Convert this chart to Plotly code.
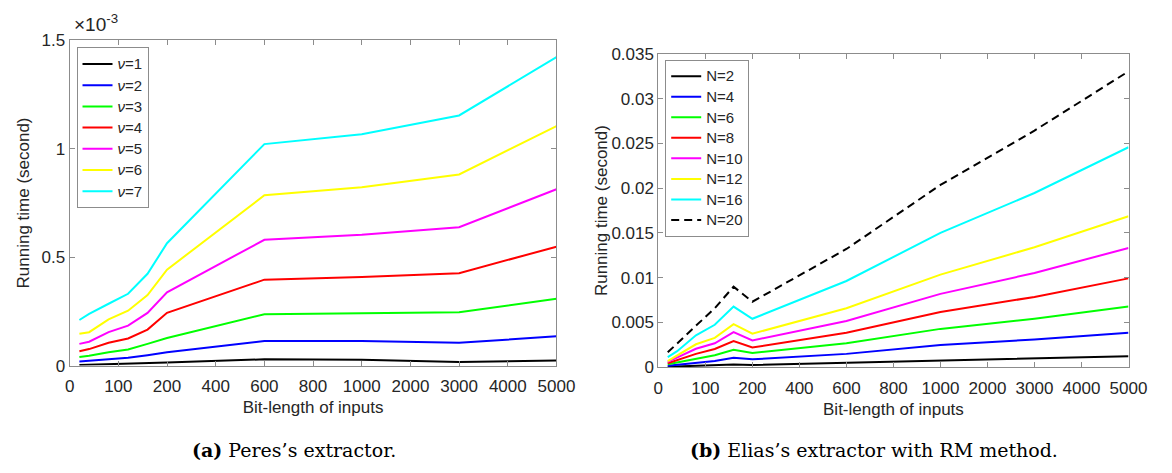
import numpy as np
import plotly.graph_objects as go

# Bit-length tick labels (equally spaced on the axis)
tick_vals = [0, 100, 200, 400, 600, 800, 1000, 2000, 3000, 4000, 5000]
bit_lengths = [20, 40, 80, 120, 160, 200, 600, 1000, 3000, 5000]

# (a) Peres's extractor, running time in units of 1e-3 s
peres_v1 = [0.003, 0.004, 0.007, 0.009, 0.011, 0.014, 0.029, 0.027, 0.017, 0.023]
peres_v2 = [0.019, 0.022, 0.030, 0.036, 0.048, 0.061, 0.113, 0.113, 0.105, 0.135]
peres_v3 = [0.039, 0.045, 0.061, 0.074, 0.100, 0.127, 0.237, 0.243, 0.246, 0.308]
peres_v4 = [0.066, 0.076, 0.105, 0.125, 0.166, 0.243, 0.396, 0.408, 0.426, 0.548]
peres_v5 = [0.100, 0.110, 0.154, 0.184, 0.243, 0.338, 0.580, 0.603, 0.638, 0.813]
peres_v6 = [0.147, 0.154, 0.213, 0.253, 0.325, 0.442, 0.785, 0.822, 0.881, 1.104]
peres_v7 = [0.210, 0.238, 0.285, 0.331, 0.423, 0.564, 1.021, 1.066, 1.153, 1.422]

# (b) Elias's extractor with RM method, running time in seconds
elias_n2 = [0.00005, 0.00008, 0.00015, 0.00020, 0.00030, 0.00025, 0.00050, 0.00070, 0.00096, 0.00124]
elias_n4 = [0.00017, 0.00028, 0.00050, 0.00070, 0.00107, 0.00089, 0.00150, 0.00250, 0.00310, 0.00386]
elias_n6 = [0.00035, 0.00055, 0.00100, 0.00135, 0.00196, 0.00160, 0.00268, 0.00429, 0.00543, 0.00679]
elias_n8 = [0.00046, 0.00080, 0.00150, 0.00204, 0.00293, 0.00221, 0.00386, 0.00617, 0.00786, 0.00993]
elias_n10 = [0.00060, 0.00110, 0.00207, 0.00268, 0.00392, 0.00300, 0.00518, 0.00820, 0.01053, 0.01332]
elias_n12 = [0.00070, 0.00130, 0.00257, 0.00328, 0.00482, 0.00375, 0.00660, 0.01035, 0.01340, 0.01686]
elias_n16 = [0.00114, 0.00180, 0.00357, 0.00475, 0.00678, 0.00542, 0.00964, 0.01500, 0.01946, 0.02457]
elias_n20 = [0.00167, 0.00270, 0.00464, 0.00660, 0.00900, 0.00732, 0.01321, 0.02036, 0.02643, 0.03304]

peres_labels = ["<i>ν</i>=1", "<i>ν</i>=2", "<i>ν</i>=3", "<i>ν</i>=4",
                "<i>ν</i>=5", "<i>ν</i>=6", "<i>ν</i>=7"]
peres_values = [peres_v1, peres_v2, peres_v3, peres_v4, peres_v5, peres_v6, peres_v7]
elias_labels = ["N=2", "N=4", "N=6", "N=8", "N=10", "N=12", "N=16", "N=20"]
elias_values = [elias_n2, elias_n4, elias_n6, elias_n8, elias_n10, elias_n12, elias_n16, elias_n20]

colors = ["#000000", "#0000ff", "#00ff00", "#ff0000", "#ff00ff", "#ffff00", "#00ffff"]

# Piecewise-linear position so the labelled bit-lengths sit at equal spacing
tick_pos = np.arange(len(tick_vals))
x_pos = np.interp(bit_lengths, tick_vals, tick_pos)

W, H = 1172, 473
FONT = "Liberation Sans, Arial, sans-serif"
TXT = "#262626"


def legend_name(text):
    # larger glyphs than the row spacing implied by the legend font
    return f"<span style='font-size:15px'>{text}</span>"


fig = go.Figure()

for i, (name, vals) in enumerate(zip(peres_labels, peres_values)):
    fig.add_trace(go.Scatter(x=x_pos, y=vals, mode="lines", name=legend_name(name),
                             line=dict(color=colors[i], width=2),
                             xaxis="x", yaxis="y", legend="legend"))

for i, (name, vals) in enumerate(zip(elias_labels, elias_values)):
    if i < 7:
        line = dict(color=colors[i], width=2)
    else:
        line = dict(color="#000000", width=2, dash="8px,5px")
    fig.add_trace(go.Scatter(x=x_pos, y=vals, mode="lines", name=legend_name(name), line=line,
                             xaxis="x2", yaxis="y2", legend="legend2"))


def px_x(p):
    return p / W


def px_y(p):
    return 1 - p / H


axis_common = dict(showline=True, linecolor="#8c8c8c", linewidth=1, mirror="allticks",
                   ticks="inside", ticklen=5, tickcolor="#8c8c8c", showgrid=False,
                   zeroline=False, tickfont=dict(family=FONT, size=17, color=TXT),
                   title_font=dict(family=FONT, size=17, color=TXT))

xaxis_kw = dict(axis_common, range=[0, 10], tickmode="array", tickvals=list(tick_pos),
                ticktext=[str(v) for v in tick_vals], ticklabelstandoff=5,
                title_text="Bit-length of inputs", title_standoff=6)

fig.update_layout(
    width=W, height=H, margin=dict(l=0, r=0, t=0, b=0),
    paper_bgcolor="white", plot_bgcolor="white",
    xaxis=dict(xaxis_kw, domain=[px_x(66), px_x(563)], anchor="y"),
    yaxis=dict(axis_common, domain=[px_y(371.5), px_y(32.5)], anchor="x", range=[0, 1.5],
               tickmode="array", tickvals=[0, 0.5, 1, 1.5], ticktext=["0", "0.5", "1", "1.5"]),
    xaxis2=dict(xaxis_kw, domain=[px_x(667), px_x(1147)], anchor="y2"),
    yaxis2=dict(axis_common, domain=[px_y(373.3), px_y(46.7)], anchor="x2", range=[0, 0.035],
                tickmode="array", tickvals=[0, 0.005, 0.01, 0.015, 0.02, 0.025, 0.03, 0.035],
                ticktext=["0", "0.005", "0.01", "0.015", "0.02", "0.025", "0.03", "0.035"]),
    legend=dict(x=px_x(73), y=px_y(40), xanchor="left", yanchor="top",
                bgcolor="white", bordercolor="#8c8c8c", borderwidth=1,
                font=dict(family=FONT, size=14, color=TXT), tracegroupgap=0,
                itemwidth=30),
    legend2=dict(x=px_x(674), y=px_y(53), xanchor="left", yanchor="top",
                 bgcolor="white", bordercolor="#8c8c8c", borderwidth=1,
                 font=dict(family=FONT, size=13.5, color=TXT), tracegroupgap=0,
                 itemwidth=30),
    showlegend=True,
)

# Vertical axis titles
for cx, cy in [(19, 202), (609, 210)]:
    fig.add_annotation(text="Running time (second)", x=px_x(cx), y=px_y(cy),
                       xref="paper", yref="paper", xanchor="center", yanchor="middle",
                       textangle=-90, showarrow=False,
                       font=dict(family=FONT, size=17, color=TXT))

# Exponent marker for the left axis
fig.add_annotation(text="×10<sup>-3</sup>", x=px_x(68), y=px_y(29), xref="paper", yref="paper",
                   xanchor="left", yanchor="bottom", showarrow=False,
                   font=dict(family=FONT, size=19, color=TXT))

# Sub-figure captions
CAP = "DejaVu Serif, Liberation Serif, serif"
fig.add_annotation(text="<b>(a)</b> Peres’s extractor.", x=px_x(295), y=px_y(459),
                   xref="paper", yref="paper", xanchor="center", yanchor="middle",
                   showarrow=False, font=dict(family=CAP, size=19, color="#000000"))
fig.add_annotation(text="<b>(b)</b> Elias’s extractor with RM method.", x=px_x(887), y=px_y(459),
                   xref="paper", yref="paper", xanchor="center", yanchor="middle",
                   showarrow=False, font=dict(family=CAP, size=19, color="#000000"))

fig.write_html("out.html")
